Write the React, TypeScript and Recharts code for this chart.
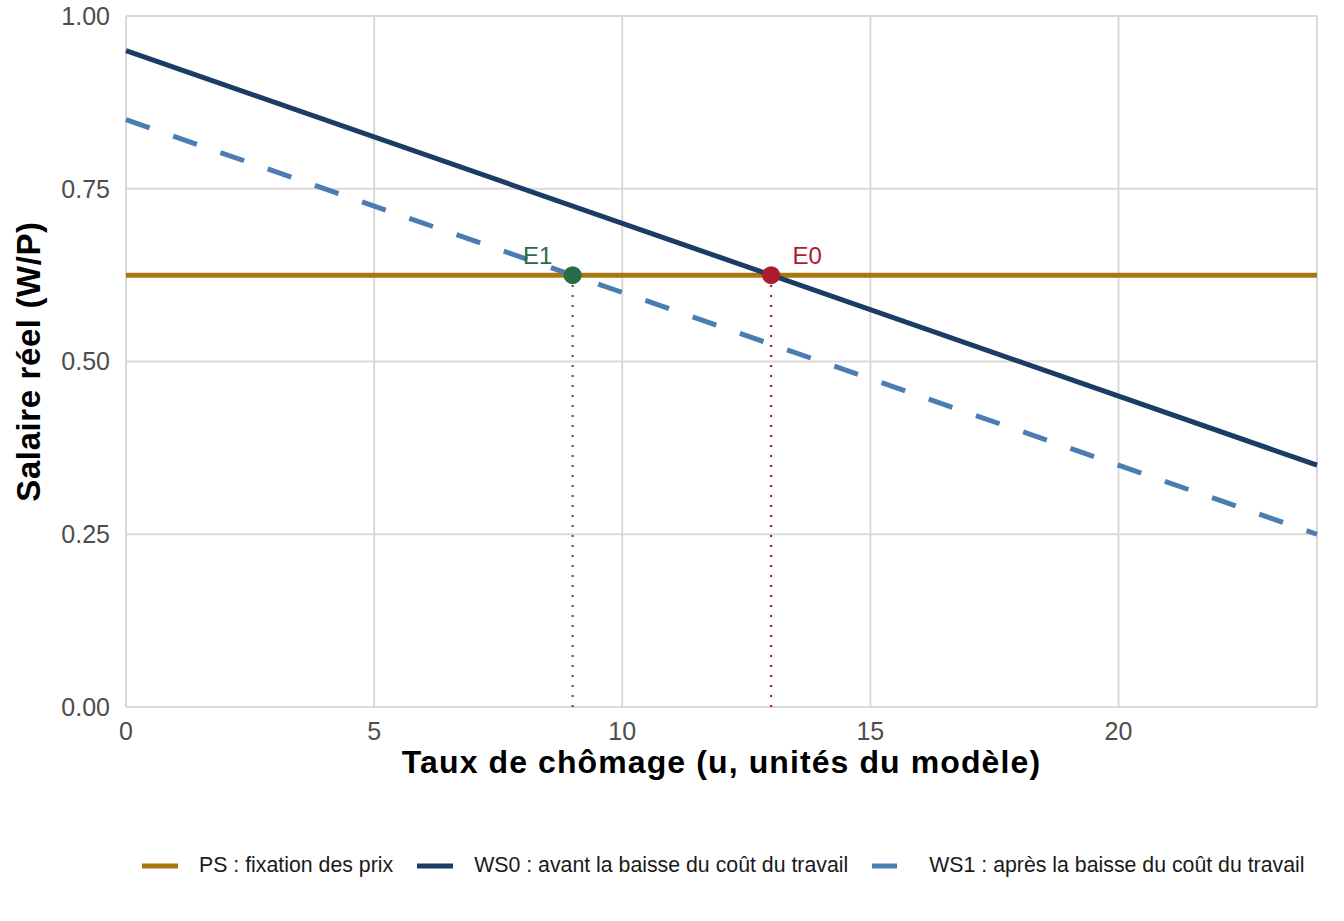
import {
  LineChart,
  Line,
  XAxis,
  YAxis,
  CartesianGrid,
  ReferenceDot,
  ReferenceLine,
} from "recharts";

// courbes (droites : deux extrémités suffisent)
const uValues = [0, 24];
const psValues = [0.625, 0.625];
const ws0Values = [0.95, 0.35];
const ws1Values = [0.85, 0.25];

const xTicks = [0, 5, 10, 15, 20];
const yTicks = [0, 0.25, 0.5, 0.75, 1];

const e0 = { u: 13, w: 0.625, label: "E0" };
const e1 = { u: 9, w: 0.625, label: "E1" };

const psData = uValues.map((u, i) => ({ u, w: psValues[i] }));
const ws0Data = uValues.map((u, i) => ({ u, w: ws0Values[i] }));
const ws1Data = uValues.map((u, i) => ({ u, w: ws1Values[i] }));

const PS_COLOR = "#a8770f";
const WS0_COLOR = "#1b3c65";
const WS1_COLOR = "#4a7db2";
const E0_COLOR = "#ad1c2e";
const E1_COLOR = "#2a6b47";

const FONT = "'Liberation Sans', Arial, sans-serif";

const legendItems = [
  { name: "PS : fixation des prix", color: PS_COLOR, dash: undefined },
  { name: "WS0 : avant la baisse du coût du travail", color: WS0_COLOR, dash: undefined },
  { name: "WS1 : après la baisse du coût du travail", color: WS1_COLOR, dash: "25 25" },
];

function PointLabel(props: any) {
  const { viewBox, value, fill, dx } = props;
  const cx = viewBox.x + (viewBox.width || 0) / 2;
  const cy = viewBox.y + (viewBox.height || 0) / 2;
  return (
    <text
      x={cx + dx}
      y={cy - 11}
      fill={fill}
      fontSize={24}
      fontFamily={FONT}
      textAnchor="middle"
    >
      {value}
    </text>
  );
}

function YTitle(props: any) {
  const { viewBox } = props;
  const cy = viewBox.y + viewBox.height / 2;
  return (
    <text
      x={40}
      y={cy}
      transform={`rotate(-90, 40, ${cy})`}
      textAnchor="middle"
      fontSize={33}
      letterSpacing={0.6}
      fontWeight="bold"
      fontFamily={FONT}
      fill="#000"
    >
      Salaire réel (W/P)
    </text>
  );
}

export default function App() {
  return (
    <div
      style={{
        position: "absolute",
        left: 0,
        top: 0,
        width: 1344,
        height: 921,
        background: "#fff",
        fontFamily: FONT,
      }}
    >
      <LineChart
        width={1344}
        height={921}
        margin={{ top: 16, right: 27, left: 0, bottom: 114 }}
      >
        <CartesianGrid stroke="#d9d9d9" strokeWidth={2} />
        <XAxis
          type="number"
          dataKey="u"
          domain={[0, 24]}
          ticks={xTicks}
          allowDuplicatedCategory={false}
          axisLine={false}
          tickLine={false}
          height={100}
          tickMargin={9}
          tick={{ fill: "#4d4d4d", fontSize: 25, fontFamily: FONT }}
          label={{
            value: "Taux de chômage (u, unités du modèle)",
            position: "insideTop",
            offset: 43,
            fill: "#000",
            fontSize: 32,
            letterSpacing: 1.1,
            fontWeight: "bold",
            fontFamily: FONT,
          }}
        />
        <YAxis
          type="number"
          domain={[0, 1]}
          ticks={yTicks}
          tickFormatter={(v: number) => v.toFixed(2)}
          axisLine={false}
          tickLine={false}
          width={126}
          tickMargin={10}
          tick={{ fill: "#4d4d4d", fontSize: 25, fontFamily: FONT }}
          label={<YTitle />}
        />
        <Line
          data={psData}
          dataKey="w"
          type="linear"
          stroke={PS_COLOR}
          strokeWidth={5}
          dot={false}
          activeDot={false}
          isAnimationActive={false}
        />
        <Line
          data={ws0Data}
          dataKey="w"
          type="linear"
          stroke={WS0_COLOR}
          strokeWidth={5}
          dot={false}
          activeDot={false}
          isAnimationActive={false}
        />
        <Line
          data={ws1Data}
          dataKey="w"
          type="linear"
          stroke={WS1_COLOR}
          strokeWidth={5}
          strokeDasharray="25 25"
          dot={false}
          activeDot={false}
          isAnimationActive={false}
        />
        <ReferenceLine
          segment={[
            { x: e1.u, y: 0 },
            { x: e1.u, y: e1.w },
          ]}
          stroke={E1_COLOR}
          strokeWidth={2.2}
          strokeDasharray="2 8"
        />
        <ReferenceLine
          segment={[
            { x: e0.u, y: 0 },
            { x: e0.u, y: e0.w },
          ]}
          stroke={E0_COLOR}
          strokeWidth={2.2}
          strokeDasharray="2 8"
        />
        <ReferenceDot
          x={e1.u}
          y={e1.w}
          r={9}
          fill={E1_COLOR}
          stroke="none"
          label={<PointLabel value={e1.label} fill={E1_COLOR} dx={-35} />}
        />
        <ReferenceDot
          x={e0.u}
          y={e0.w}
          r={9}
          fill={E0_COLOR}
          stroke="none"
          label={<PointLabel value={e0.label} fill={E0_COLOR} dx={36} />}
        />
      </LineChart>
      <div
        style={{
          position: "absolute",
          top: 853,
          left: 142,
          display: "flex",
          gap: 24,
          fontSize: 21.3,
          color: "#1a1a1a",
          whiteSpace: "nowrap",
        }}
      >
        {legendItems.map((item) => (
          <div key={item.name} style={{ display: "flex", alignItems: "center" }}>
            <svg width={36} height={24} style={{ marginRight: 21 }}>
              <line
                x1={0}
                y1={12}
                x2={36}
                y2={12}
                stroke={item.color}
                strokeWidth={5}
                strokeDasharray={item.dash}
              />
            </svg>
            <span>{item.name}</span>
          </div>
        ))}
      </div>
    </div>
  );
}
